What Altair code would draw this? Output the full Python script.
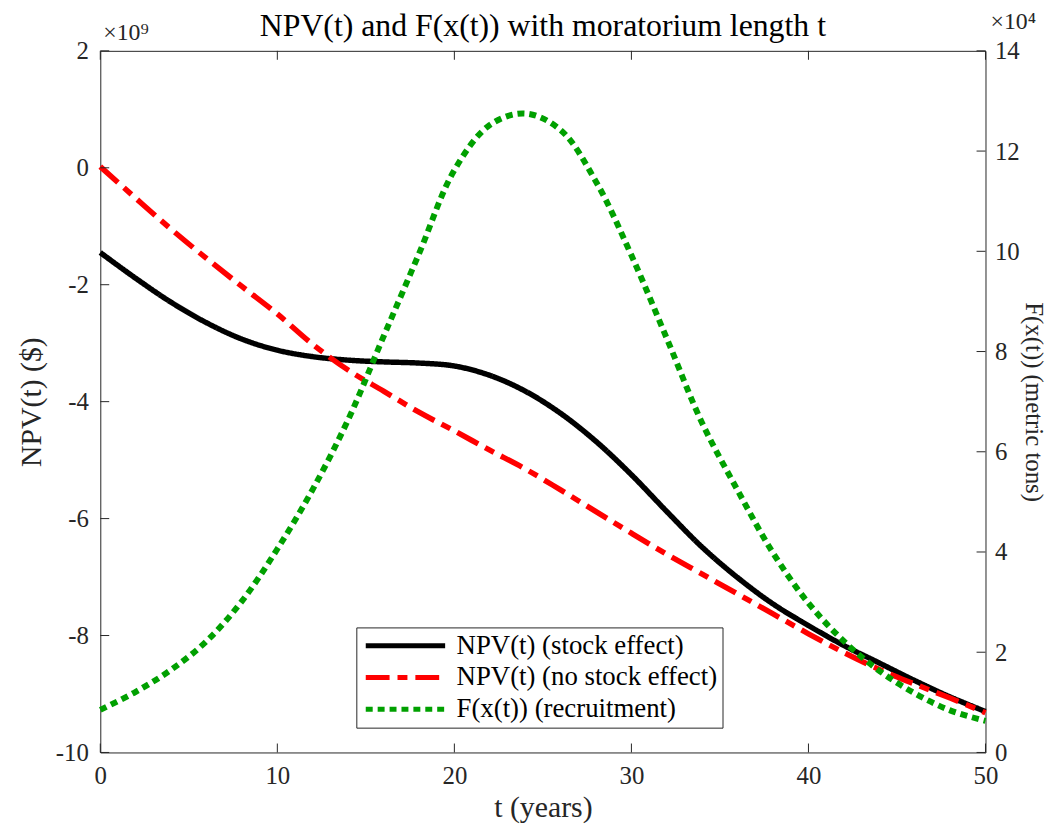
import altair as alt
import pandas as pd

# ---------------- data ----------------
t_years = list(range(0, 51, 2))
npv_stock = [-1.45, -1.89, -2.30, -2.65, -2.93, -3.12, -3.23, -3.29, -3.32, -3.34,
             -3.39, -3.55, -3.82, -4.20, -4.68, -5.25, -5.88, -6.49, -7.01, -7.46,
             -7.83, -8.17, -8.47, -8.77, -9.05, -9.30]
npv_nostock = [0.02, -0.52, -1.05, -1.55, -2.03, -2.50, -3.02, -3.46, -3.82, -4.18,
               -4.50, -4.83, -5.15, -5.51, -5.88, -6.25, -6.61, -6.95, -7.29, -7.63,
               -7.97, -8.29, -8.58, -8.83, -9.07, -9.32]
recruitment = [0.85, 1.21, 1.65, 2.22, 3.02, 4.06, 5.25, 6.64, 8.30, 9.95,
               11.62, 12.52, 12.75, 12.42, 11.39, 9.92, 8.26, 6.57, 5.23, 3.98,
               2.98, 2.22, 1.63, 1.18, 0.84, 0.63]

x_ticks = [0, 10, 20, 30, 40, 50]
left_ticks = [-10, -8, -6, -4, -2, 0, 2]
right_ticks = [0, 2, 4, 6, 8, 10, 12, 14]

series_names = ["NPV(t) (stock effect)", "NPV(t) (no stock effect)", "F(x(t)) (recruitment)"]
series_colors = ["#000000", "#FF0000", "#00A000"]
series_dashes = [[1, 0], [24, 8, 10, 8], [7, 5]]

title_text = "NPV(t) and F(x(t)) with moratorium length t"
left_title = "NPV(t) ($)"
right_title = "F(x(t)) (metric tons)"
x_title = "t (years)"
left_mult = "×10⁹"
right_mult = "×10⁴"

# ---------------- layout / style ----------------
W, H = 892, 707
FONT = "Liberation Serif"
AX = "#262626"
TICK = 9

npv_df = pd.DataFrame({
    "t": t_years + t_years,
    "value": npv_stock + npv_nostock,
    "series": [series_names[0]] * len(t_years) + [series_names[1]] * len(t_years),
})
rec_df = pd.DataFrame({"t": t_years, "value": recruitment, "series": series_names[2]})

xscale = alt.Scale(domain=[0, 50], nice=False, zero=False)
lscale = alt.Scale(domain=[-10, 2], nice=False, zero=False)
rscale = alt.Scale(domain=[0, 14], nice=False, zero=False)

legend = alt.Legend(
    title=None, orient="none", legendX=258, legendY=581,
    fillColor="white", strokeColor=AX, padding=5,
    symbolType="M-4,0H4", symbolSize=400, symbolStrokeWidth=5, symbolOffset=31,
    labelFont=FONT, labelFontSize=27, labelColor="black", labelOffset=38,
    rowPadding=4, labelLimit=500,
)
color = alt.Color("series:N", scale=alt.Scale(domain=series_names, range=series_colors), legend=legend)
dash = alt.StrokeDash("series:N", scale=alt.Scale(domain=series_names, range=series_dashes), legend=legend)

x_axis = alt.Axis(values=x_ticks, ticks=False, domain=False, grid=False,
                  labelFont=FONT, labelFontSize=25, labelColor=AX, labelPadding=11,
                  labelFlush=False, labelOverlap=False,
                  title=x_title, titleFont=FONT, titleFontSize=30, titleFontWeight="normal",
                  titleColor=AX, titlePadding=5)
left_axis = alt.Axis(values=left_ticks, ticks=False, domain=False, grid=False, orient="left",
                     labelFont=FONT, labelFontSize=25, labelColor=AX, labelPadding=12,
                     labelExpr="'' + datum.value", labelOverlap=False,
                     title=left_title, titleFont=FONT, titleFontSize=30, titleFontWeight="normal",
                     titleColor=AX, titlePadding=9)
right_axis = alt.Axis(values=right_ticks, ticks=False, domain=False, grid=False, orient="right",
                      labelFont=FONT, labelFontSize=25, labelColor=AX, labelPadding=9,
                      labelOverlap=False,
                      title=right_title, titleFont=FONT, titleFontSize=25, titleFontWeight="normal",
                      titleColor=AX, titlePadding=1)

npv_lines = alt.Chart(npv_df).mark_line(strokeWidth=5.5, interpolate="catmull-rom", strokeCap="butt").encode(
    x=alt.X("t:Q", scale=xscale, axis=x_axis),
    y=alt.Y("value:Q", scale=lscale, axis=left_axis),
    color=color, strokeDash=dash,
)
rec_line = alt.Chart(rec_df).mark_line(strokeWidth=6, interpolate="catmull-rom", strokeCap="butt").encode(
    x=alt.X("t:Q", scale=xscale, axis=x_axis),
    y=alt.Y("value:Q", scale=rscale, axis=right_axis),
    color=color, strokeDash=dash,
)

xt_df = pd.DataFrame({"t": x_ticks})
lt_df = pd.DataFrame({"v": left_ticks})
rt_df = pd.DataFrame({"v": right_ticks})

bottom_ticks = alt.Chart(xt_df).mark_rule(color=AX, strokeWidth=1).encode(
    x=alt.X("t:Q", scale=xscale, axis=x_axis), y=alt.value(H), y2=alt.value(H - TICK))
top_ticks = alt.Chart(xt_df).mark_rule(color=AX, strokeWidth=1).encode(
    x=alt.X("t:Q", scale=xscale, axis=x_axis), y=alt.value(0), y2=alt.value(TICK))
left_tick_marks = alt.Chart(lt_df).mark_rule(color=AX, strokeWidth=1).encode(
    y=alt.Y("v:Q", scale=lscale, axis=None), x=alt.value(0), x2=alt.value(TICK))
right_tick_marks = alt.Chart(rt_df).mark_rule(color=AX, strokeWidth=1).encode(
    y=alt.Y("v:Q", scale=rscale, axis=None), x=alt.value(W), x2=alt.value(W - TICK))

text_df = pd.DataFrame({"title": [title_text], "lm": [left_mult], "rm": [right_mult]})
title_mark = alt.Chart(text_df).mark_text(font=FONT, fontSize=32, color="black", align="center",
                                          baseline="alphabetic").encode(
    text="title:N", x=alt.value(W / 2), y=alt.value(-15))
lm_mark = alt.Chart(text_df).mark_text(font=FONT, fontSize=24, color=AX, align="left",
                                       baseline="alphabetic").encode(
    text="lm:N", x=alt.value(3), y=alt.value(-11))
rm_mark = alt.Chart(text_df).mark_text(font=FONT, fontSize=24, color=AX, align="left",
                                       baseline="alphabetic").encode(
    text="rm:N", x=alt.value(W + 5), y=alt.value(-22))

chart = alt.layer(
    npv_lines, rec_line, bottom_ticks, top_ticks, left_tick_marks, right_tick_marks,
    title_mark, lm_mark, rm_mark,
).resolve_scale(y="independent").properties(
    width=W, height=H,
    padding={"left": 93, "top": 40, "right": 65, "bottom": 80},
    autosize=alt.AutoSizeParams(type="none"),
    background="white",
).configure_view(stroke=AX, strokeWidth=1)

chart.save("out.html", embed_options={"renderer": "svg", "actions": False})
